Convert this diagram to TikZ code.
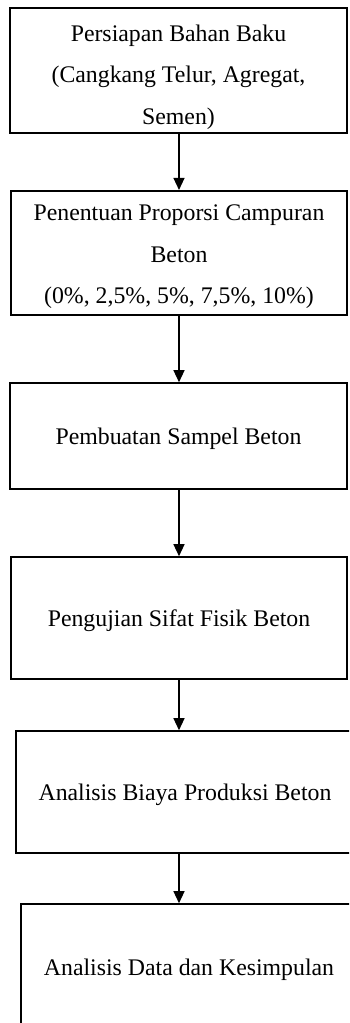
\documentclass[tikz,border=0pt]{standalone}
\usepackage{fontspec}
\setmainfont{Liberation Serif}
\usetikzlibrary{arrows.meta}
\newcommand\boxtext[2][0pt]{\raisebox{-#1}[\height][\depth]{\begin{tabular}{@{}c@{}}#2\end{tabular}}}
\begin{document}
\begin{tikzpicture}[x=1pt,y=-1pt,
  box/.style={draw=black, line width=1.6pt, inner sep=0pt, align=center,
    font=\fontsize{23.8}{41.5}\selectfont, text=black},
  arr/.style={draw=black, line width=1.3pt, -{Triangle[width=11pt,length=12pt]}}]
\useasboundingbox (0,0) rectangle (349,1023);
\fill[white] (0,0) rectangle (349,1023);
\clip (0,0) rectangle (349,1023);
\coordinate (ax) at (179,0);
\node[box, minimum width=337pt, minimum height=123pt] (b1) at (178.5,70.5)
  {\boxtext[4pt]{Persiapan Bahan Baku\\(Cangkang Telur, Agregat,\\Semen)}};
\node[box, minimum width=336pt, minimum height=122pt] (b2) at (179,253)
  {\boxtext[1pt]{Penentuan Proporsi Campuran\\Beton\\(0\%, 2,5\%, 5\%, 7,5\%, 10\%)}};
\node[box, minimum width=337pt, minimum height=106pt] (b3) at (178.5,436)
  {\boxtext{Pembuatan Sampel Beton}};
\node[box, minimum width=336pt, minimum height=122pt] (b4) at (179,618)
  {\boxtext{Pengujian Sifat Fisik Beton}};
\node[box, minimum width=338pt, minimum height=122pt] (b5) at (185,792)
  {\boxtext{Analisis Biaya Produksi Beton}};
\node[box, minimum width=336pt, minimum height=126pt] (b6) at (189,967)
  {\boxtext{Analisis Data dan Kesimpulan}};
\draw[arr] (b1.south -| ax) -- (b2.north -| ax);
\draw[arr] (b2.south -| ax) -- (b3.north -| ax);
\draw[arr] (b3.south -| ax) -- (b4.north -| ax);
\draw[arr] (b4.south -| ax) -- (b5.north -| ax);
\draw[arr] (b5.south -| ax) -- (b6.north -| ax);
\end{tikzpicture}
\end{document}
